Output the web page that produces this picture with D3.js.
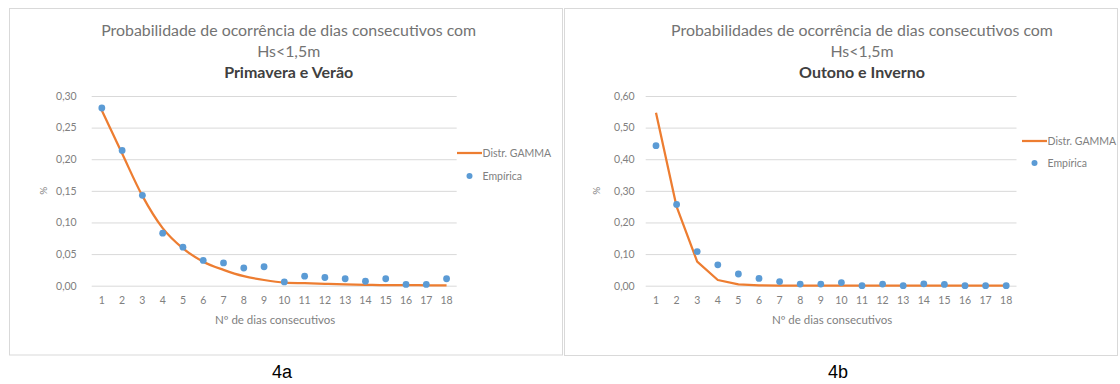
<!DOCTYPE html>
<html>
<head>
<meta charset="utf-8">
<script src="https://cdn.jsdelivr.net/npm/d3@7"></script>
<style>
  html, body { margin: 0; padding: 0; background: #fff; }
  svg { display: block; }
  text { font-family: Lato, "Open Sans", sans-serif; }
</style>
</head>
<body>
<svg id="chart" width="1120" height="384"></svg>
<script>
// Number of consecutive days (x categories)
const days = ["1","2","3","4","5","6","7","8","9","10","11","12","13","14","15","16","17","18"];

// Spring and summer: fitted gamma distribution and empirical frequencies
const springGamma = [0.277, 0.209, 0.142, 0.091, 0.059, 0.038, 0.025, 0.015, 0.009, 0.005, 0.004, 0.003, 0.002, 0.0015, 0.001, 0.001, 0.0007, 0.0005];
const springEmpirical = [0.281, 0.214, 0.143, 0.083, 0.061, 0.040, 0.036, 0.028, 0.030, 0.006, 0.015, 0.013, 0.011, 0.007, 0.011, 0.002, 0.002, 0.011];

// Autumn and winter: fitted gamma distribution and empirical frequencies
const autumnGamma = [0.547, 0.250, 0.076, 0.018, 0.004, 0.001, 0.0003, 0, 0, 0, 0, 0, 0, 0, 0, 0, 0, 0];
const autumnEmpirical = [0.443, 0.257, 0.108, 0.066, 0.037, 0.023, 0.013, 0.005, 0.005, 0.010, 0.000, 0.005, 0.000, 0.006, 0.004, 0.000, 0.000, 0.000];

// Y axis tick values
const springTicks = [0, 0.05, 0.10, 0.15, 0.20, 0.25, 0.30];
const autumnTicks = [0, 0.10, 0.20, 0.30, 0.40, 0.50, 0.60];

// Text
const springTitle = ["Probabilidade de ocorrência de dias consecutivos com", "Hs<1,5m", "Primavera e Verão"];
const autumnTitle = ["Probabilidades de ocorrência de dias consecutivos com", "Hs<1,5m", "Outono e Inverno"];
const legendLabels = ["Distr. GAMMA", "Empírica"];
const xTitle = "Nº de dias consecutivos";
const yTitle = "%";
const captions = ["4a", "4b"];

const ORANGE = "#ED7D31";
const BLUE = "#5B9BD5";
const fmt = v => d3.format(".2f")(v).replace(".", ",");

const svg = d3.select("#chart");

const panels = [
  {
    frame: [9.5, 8.5, 553, 346.5],
    plot: { left: 91.7, right: 456.7, top: 96, bottom: 285.7 },
    labelGap: 15,
    titleX: 288.7,
    title: springTitle,
    gamma: springGamma, empirical: springEmpirical,
    ticks: springTicks,
    curve: d3.curveMonotoneX,
    yTitleX: 47,
    legend: { lineX: 457, lineY: 153, dotY: 176 },
    caption: captions[0], captionX: 282
  },
  {
    frame: [564.5, 8.5, 553, 347],
    plot: { left: 645.7, right: 1016.5, top: 96, bottom: 285.7 },
    labelGap: 11,
    titleX: 862,
    title: autumnTitle,
    gamma: autumnGamma, empirical: autumnEmpirical,
    ticks: autumnTicks,
    curve: d3.curveLinear,
    yTitleX: 600,
    legend: { lineX: 1022, lineY: 141, dotY: 163 },
    caption: captions[1], captionX: 838
  }
];

panels.forEach(p => {
  const g = svg.append("g");

  // chart frame
  g.append("rect")
    .attr("x", p.frame[0]).attr("y", p.frame[1])
    .attr("width", p.frame[2]).attr("height", p.frame[3])
    .attr("fill", "#fff").attr("stroke", "#d9d9d9").attr("stroke-width", 1);

  const x = d3.scaleBand().domain(days).range([p.plot.left, p.plot.right]);
  const y = d3.scaleLinear()
    .domain([0, d3.max(p.ticks)])
    .range([p.plot.bottom, p.plot.top]);
  const cx = d => x(d) + x.bandwidth() / 2;

  // horizontal gridlines + y labels
  const yAxis = d3.axisLeft(y).tickValues(p.ticks).tickFormat(fmt)
    .tickSize(-(p.plot.right - p.plot.left)).tickPadding(p.labelGap);
  const ya = g.append("g").attr("transform", `translate(${p.plot.left},0)`).call(yAxis);
  ya.select(".domain").remove();
  ya.selectAll(".tick line").attr("stroke", "#d9d9d9").attr("stroke-width", 1);
  ya.selectAll(".tick text")
    .attr("fill", "#808080").style("font-size", "10.5px")
    .style("font-family", "Lato, 'Open Sans', sans-serif");

  // x labels
  const xAxis = d3.axisBottom(x).tickSize(0).tickPadding(11);
  const xa = g.append("g").attr("transform", `translate(0,${p.plot.bottom})`).call(xAxis);
  xa.select(".domain").remove();
  xa.selectAll(".tick text")
    .attr("fill", "#808080").style("font-size", "10.5px")
    .style("font-family", "Lato, 'Open Sans', sans-serif");

  // axis titles
  g.append("text")
    .attr("x", (p.plot.left + p.plot.right) / 2 + 1)
    .attr("y", 324)
    .attr("text-anchor", "middle")
    .attr("fill", "#808080").style("font-size", "11.5px")
    .text(xTitle);
  g.append("text")
    .attr("transform", `translate(${p.yTitleX},${(p.plot.top + p.plot.bottom) / 2}) rotate(-90)`)
    .attr("text-anchor", "middle")
    .attr("fill", "#808080").style("font-size", "10px")
    .text(yTitle);

  // titles
  const baselines = [36, 57, 78];
  p.title.forEach((t, i) => {
    g.append("text")
      .attr("x", p.titleX).attr("y", baselines[i])
      .attr("text-anchor", "middle")
      .attr("fill", i === 2 ? "#404040" : "#737373")
      .style("font-size", i === 2 ? "16px" : "15.9px")
      .style("font-weight", i === 2 ? "bold" : "normal")
      .text(t);
  });

  // gamma distribution line
  const line = d3.line()
    .x((d, i) => cx(days[i]))
    .y(d => y(d))
    .curve(p.curve);
  g.append("path")
    .datum(p.gamma)
    .attr("d", line)
    .attr("fill", "none")
    .attr("stroke", ORANGE)
    .attr("stroke-width", 2.25)
    .attr("stroke-linejoin", "round");

  // empirical points
  g.selectAll("circle.emp")
    .data(p.empirical)
    .join("circle")
    .attr("class", "emp")
    .attr("cx", (d, i) => cx(days[i]))
    .attr("cy", d => y(d))
    .attr("r", 3.4)
    .attr("fill", BLUE);

  // legend
  const L = p.legend;
  g.append("line")
    .attr("x1", L.lineX).attr("x2", L.lineX + 25)
    .attr("y1", L.lineY).attr("y2", L.lineY)
    .attr("stroke", ORANGE).attr("stroke-width", 2.25);
  g.append("text")
    .attr("x", L.lineX + 25.5).attr("y", L.lineY + 3.5)
    .attr("fill", "#808080").style("font-size", "10.5px")
    .text(legendLabels[0]);
  g.append("circle")
    .attr("cx", L.lineX + 12.5).attr("cy", L.dotY).attr("r", 3)
    .attr("fill", BLUE);
  g.append("text")
    .attr("x", L.lineX + 25.5).attr("y", L.dotY + 3.5)
    .attr("fill", "#808080").style("font-size", "10.5px")
    .text(legendLabels[1]);

  // panel caption
  svg.append("text")
    .attr("x", p.captionX).attr("y", 378)
    .attr("text-anchor", "middle")
    .attr("fill", "#000")
    .style("font-family", "Liberation Sans, Arial, sans-serif")
    .style("font-size", "18px")
    .text(p.caption);
});
</script>
</body>
</html>
